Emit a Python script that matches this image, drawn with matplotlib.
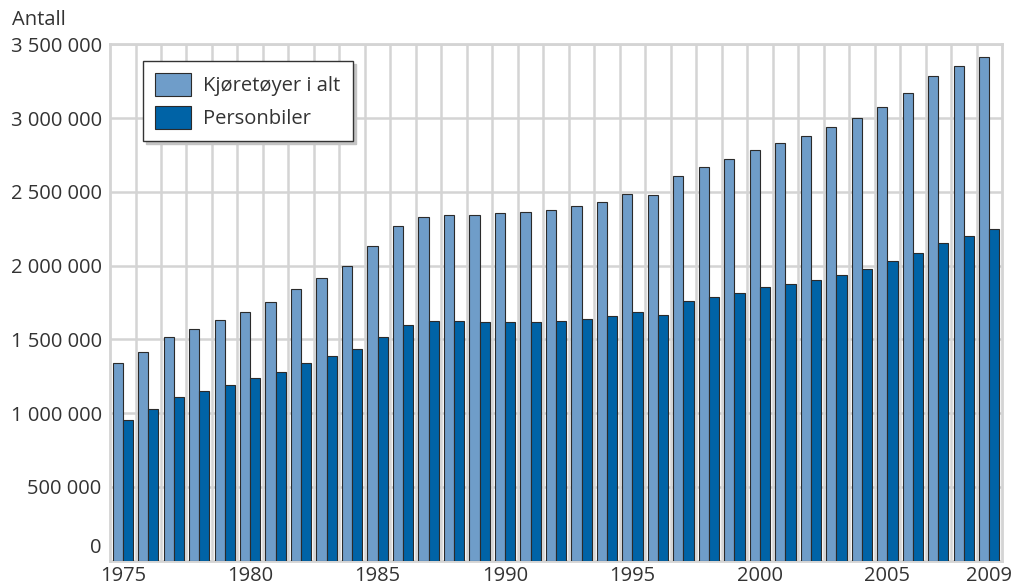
import numpy as np
import matplotlib.pyplot as plt
from matplotlib.ticker import FixedLocator
from matplotlib.transforms import ScaledTranslation

# Registrerte kjøretøy i Norge, 1975-2009
aar = list(range(1975, 2010))
kjoretoy_i_alt = [
    1337000, 1416000, 1517000, 1572000, 1631000, 1688000, 1755000, 1843000,
    1913000, 1995000, 2134000, 2266000, 2327000, 2345000, 2344000, 2358000,
    2365000, 2378000, 2401000, 2431000, 2483000, 2478000, 2609000, 2668000,
    2720000, 2781000, 2831000, 2878000, 2937000, 3000000, 3077000, 3168000,
    3283000, 3353000, 3414000,
]
personbiler = [
    955000, 1025000, 1109000, 1149000, 1190000, 1235000, 1280000, 1339000,
    1384000, 1432000, 1515000, 1595000, 1624000, 1624000, 1615000, 1615000,
    1617000, 1622000, 1635000, 1656000, 1685000, 1662000, 1759000, 1787000,
    1814000, 1852000, 1873000, 1900000, 1934000, 1978000, 2031000, 2085000,
    2155000, 2198000, 2246000,
]
x_etiketter = [1975, 1980, 1985, 1990, 1995, 2000, 2005, 2009]
y_verdier = [0, 500000, 1000000, 1500000, 2000000, 2500000, 3000000, 3500000]

LYS = '#6f9dc9'
MORK = '#0063a6'
KANT = '#2b2b2b'
GRID = '#d4d4d4'
TEKST = '#333333'

plt.rcParams['font.family'] = ['Open Sans', 'DejaVu Sans']

fig = plt.figure(figsize=(10.15, 5.87), dpi=100)
ax = fig.add_axes([0.1084, 0.0451, 0.8788, 0.8794])

idx = np.arange(len(aar))
bredde = 0.4
ax.bar(idx - bredde / 2, kjoretoy_i_alt, width=bredde, color=LYS,
       edgecolor=KANT, linewidth=0.8, label='Kjøretøyer i alt', zorder=3)
ax.bar(idx + bredde / 2, personbiler, width=bredde, color=MORK,
       edgecolor=KANT, linewidth=0.8, label='Personbiler', zorder=3)

ax.set_xlim(-0.5, len(aar) - 0.5)
ax.set_ylim(0, 3500000)

# rutenett: vannrett per 500 000, loddrett mellom årene
for y in y_verdier[1:]:
    ax.axhline(y, color=GRID, linewidth=1.8, zorder=1)
for g in idx[:-1] + 0.5:
    ax.axvline(g, color=GRID, linewidth=1.8, zorder=1)
for s in ax.spines.values():
    s.set_color(GRID)
    s.set_linewidth(2.0)

ax.yaxis.set_major_locator(FixedLocator(y_verdier))
ax.set_yticklabels([f'{v:,}'.replace(',', ' ') for v in y_verdier])
ax.xaxis.set_major_locator(FixedLocator([aar.index(a) for a in x_etiketter]))
ax.set_xticklabels([str(a) for a in x_etiketter])
ax.tick_params(axis='both', length=0, labelsize=14.5, colors=TEKST)
ax.tick_params(axis='y', pad=6)
ax.tick_params(axis='x', pad=4)

# løft nullpunktet litt så det ikke kolliderer med årstallene
null = ax.yaxis.get_major_ticks()[0].label1
null.set_transform(null.get_transform() + ScaledTranslation(0, 15 / 100, fig.dpi_scale_trans))

fig.text(12 / 1015, 1 - 20 / 587, 'Antall', fontsize=14.5, color=TEKST,
         ha='left', va='center')

leg = ax.legend(loc='upper left', bbox_to_anchor=(0.037, 0.968),
                borderaxespad=0, fontsize=14.5, frameon=True, fancybox=False,
                edgecolor=TEKST, framealpha=1, borderpad=0.6,
                handlelength=1.8, handleheight=1.35, handletextpad=0.6,
                labelspacing=0.5,
                shadow={'color': '#c4c4c4', 'alpha': 1})
leg.get_frame().set_linewidth(1.0)
leg.set_zorder(5)
for t in leg.get_texts():
    t.set_color(TEKST)

fig.savefig('out.png', dpi=100)
